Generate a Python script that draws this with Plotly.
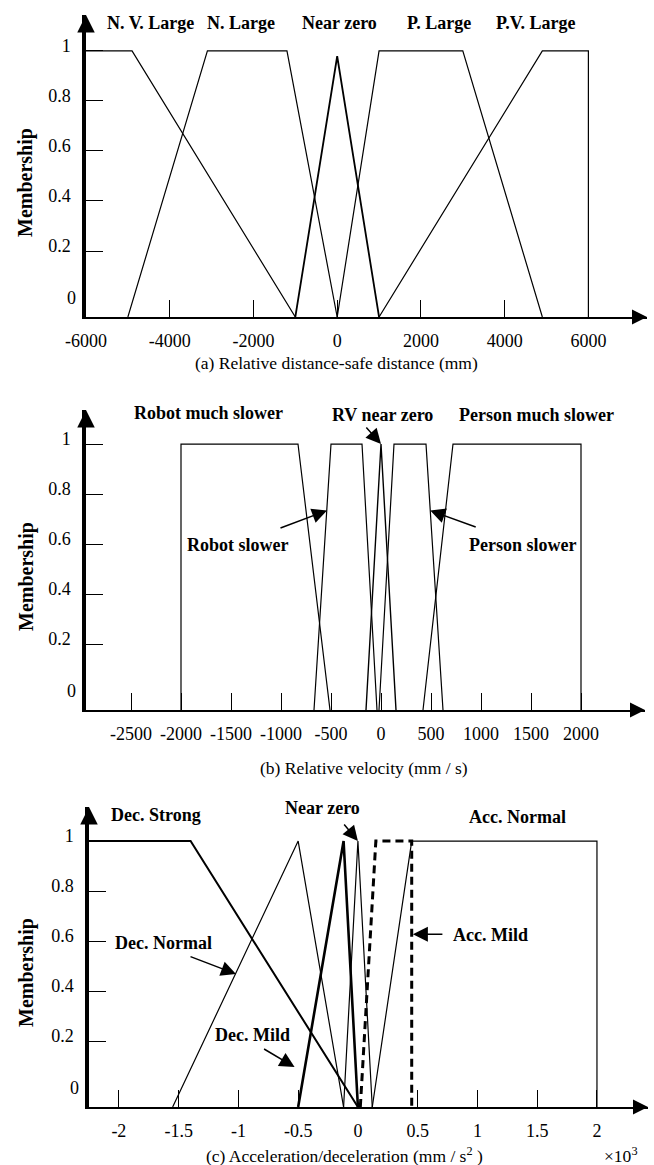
import plotly.graph_objects as go

# ---------------- data ----------------
membership_levels = [0, 0.2, 0.4, 0.6, 0.8, 1]
membership_labels = ["0", "0.2", "0.4", "0.6", "0.8", "1"]

# (a) Relative distance - safe distance (mm)
a_ticks = [-6000, -4000, -2000, 0, 2000, 4000, 6000]
a_tick_text = ["-6000", "-4000", "-2000", "0", "2000", "4000", "6000"]
a_names = ["N. V. Large", "N. Large", "Near zero", "P. Large", "P.V. Large"]
a_nvl_x = [-6000, -4900, -1000]
a_nvl_y = [1, 1, 0]
a_nl_x = [-5000, -3100, -1200, 0]
a_nl_y = [0, 1, 1, 0]
a_nz_x = [-1000, 0, 1000]
a_nz_y = [0, 0.98, 0]
a_pl_x = [0, 1000, 3000, 4900]
a_pl_y = [0, 1, 1, 0]
a_pvl_x = [1000, 4900, 6000, 6000]
a_pvl_y = [0, 1, 1, 0]

# (b) Relative velocity (mm/s)
b_ticks = [-2500, -2000, -1500, -1000, -500, 0, 500, 1000, 1500, 2000]
b_tick_text = ["-2500", "-2000", "-1500", "-1000", "-500", "0", "500", "1000", "1500", "2000"]
b_names = ["Robot much slower", "Robot slower", "RV near zero", "Person slower", "Person much slower"]
b_rms_x = [-2000, -2000, -830, -510]
b_rms_y = [0, 1, 1, 0]
b_rs_x = [-670, -500, -190, -40]
b_rs_y = [0, 1, 1, 0]
b_rv_x = [-150, 0, 150]
b_rv_y = [0, 1, 0]
b_ps_x = [-20, 130, 450, 620]
b_ps_y = [0, 1, 1, 0]
b_pms_x = [420, 720, 2000, 2000]
b_pms_y = [0, 1, 1, 0]

# (c) Acceleration / deceleration (x10^3 mm/s^2)
c_ticks = [-2, -1.5, -1, -0.5, 0, 0.5, 1, 1.5, 2]
c_tick_text = ["-2", "-1.5", "-1", "-0.5", "0", "0.5", "1", "1.5", "2"]
c_names = ["Dec. Strong", "Dec. Normal", "Dec. Mild", "Near zero", "Acc. Mild", "Acc. Normal"]
c_ds_x = [-2.25, -1.4, 0]
c_ds_y = [1, 1, 0]
c_dn_x = [-1.55, -0.5, -0.12]
c_dn_y = [0, 1, 0]
c_dm_x = [-0.5, -0.12, 0]
c_dm_y = [0, 1, 0]
c_nz_x = [-0.12, 0, 0.12]
c_nz_y = [0, 1, 0]
c_am_x = [0.02, 0.15, 0.45, 0.45]
c_am_y = [0, 1, 1, 0]
c_an_x = [0.12, 0.45, 2, 2]
c_an_y = [0, 1, 1, 0]

# ---------------- layout helpers ----------------
W, H = 654, 1165
SERIF = "Liberation Serif"
TICK0 = 0.06  # where the "0" label sits above the base line


def fx(p):
    return p / W


def fy(p):
    return 1 - p / H


def yt(v):
    return TICK0 + (1 - TICK0) * v


fig = go.Figure()


def add_set(xs, ys, axis, width=1.2, dash="solid"):
    fig.add_trace(go.Scatter(
        x=xs, y=ys, mode="lines", xaxis="x" + axis, yaxis="y" + axis,
        line=dict(color="black", width=width, dash=dash),
        showlegend=False, hoverinfo="skip"))


add_set(a_nvl_x, a_nvl_y, "")
add_set(a_nl_x, a_nl_y, "")
add_set(a_nz_x, a_nz_y, "", width=1.8)
add_set(a_pl_x, a_pl_y, "")
add_set(a_pvl_x, a_pvl_y, "")

add_set(b_rms_x, b_rms_y, "2")
add_set(b_rs_x, b_rs_y, "2")
add_set(b_rv_x, b_rv_y, "2", width=1.4)
add_set(b_ps_x, b_ps_y, "2")
add_set(b_pms_x, b_pms_y, "2")

add_set(c_ds_x, c_ds_y, "3", width=2.0)
add_set(c_dn_x, c_dn_y, "3")
add_set(c_dm_x, c_dm_y, "3", width=2.6)
add_set(c_nz_x, c_nz_y, "3")
add_set(c_am_x, c_am_y, "3", width=3, dash="8px,5px")
add_set(c_an_x, c_an_y, "3")

tickfont = dict(family=SERIF, size=18, color="black")


def xaxis_cfg(px_l, px_r, rng, vals, text, anchor):
    return dict(domain=[fx(px_l), fx(px_r)], range=rng, anchor=anchor,
                tickvals=vals, ticktext=text, ticks="inside", ticklen=17,
                tickwidth=1.4, tickcolor="black", showline=True, linewidth=2.2,
                linecolor="black", showgrid=False, zeroline=False,
                tickfont=tickfont, ticklabelstandoff=6, fixedrange=True,
                automargin=False)


def yaxis_cfg(px_t, px_b, top, anchor):
    return dict(domain=[fy(px_b), fy(px_t)], range=[0, top], anchor=anchor,
                tickvals=[yt(v) for v in membership_levels[1:]],
                ticktext=membership_labels[1:], ticks="inside", ticklen=17,
                tickwidth=1.4, tickcolor="black", showline=True, linewidth=3.5,
                linecolor="black", showgrid=False, zeroline=False,
                tickfont=tickfont, ticklabelstandoff=8, ticklabelshift=-5,
                fixedrange=True, automargin=False)


fig.update_layout(
    width=W, height=H, margin=dict(l=0, r=0, t=0, b=0, pad=0, autoexpand=False),
    paper_bgcolor="white", plot_bgcolor="white",
    xaxis=xaxis_cfg(86, 647, [-6000, 7400], a_ticks, a_tick_text, "y"),
    yaxis=yaxis_cfg(15, 317, 1.135, "x"),
    xaxis2=xaxis_cfg(86, 645, [-2950, 2640], b_ticks, b_tick_text, "y2"),
    yaxis2=yaxis_cfg(410, 710, 1.128, "x2"),
    xaxis3=xaxis_cfg(89, 648, [-2.25, 2.427], c_ticks, c_tick_text, "y3"),
    yaxis3=yaxis_cfg(807, 1107, 1.128, "x3"),
)

ann = []
bold = dict(family=SERIF, size=18, color="black")
reg = dict(family=SERIF, size=17.5, color="black")

# axis arrowheads and the "0" labels
for ax in ["", "2", "3"]:
    ann.append(dict(xref="x%s domain" % ax, yref="y%s domain" % ax, x=1, y=0,
                    ax=-16, ay=0, text="", showarrow=True, arrowhead=2,
                    arrowwidth=2, arrowsize=1.5, arrowcolor="black"))
    ann.append(dict(xref="x%s domain" % ax, yref="y%s domain" % ax, x=0, y=1,
                    ax=0, ay=18, text="", showarrow=True, arrowhead=2,
                    arrowwidth=3.5, arrowsize=1.0, arrowcolor="black"))
    ann.append(dict(xref="x%s domain" % ax, yref="y" + ax, x=0, y=yt(0),
                    text=membership_labels[0], showarrow=False, xanchor="right",
                    yanchor="middle", xshift=-8, yshift=3, font=tickfont))

# Membership titles
for cy in [183, 577, 973]:
    ann.append(dict(xref="paper", yref="paper", x=fx(26), y=fy(cy),
                    text="<b>Membership</b>", textangle=-90, showarrow=False,
                    font=dict(family=SERIF, size=20, color="black"),
                    xanchor="center", yanchor="middle"))

# axis captions
ann.append(dict(xref="paper", yref="paper", x=fx(336), y=fy(363),
                text="(a) Relative distance-safe distance (mm)", showarrow=False,
                font=reg, xanchor="center", yanchor="middle"))
ann.append(dict(xref="paper", yref="paper", x=fx(364), y=fy(768),
                text="(b) Relative velocity (mm / s)", showarrow=False,
                font=reg, xanchor="center", yanchor="middle"))
ann.append(dict(xref="paper", yref="paper", x=fx(344), y=fy(1155),
                text="(c) Acceleration/deceleration (mm / s<sup>2</sup> )",
                showarrow=False, font=reg, xanchor="center", yanchor="middle"))
ann.append(dict(xref="paper", yref="paper", x=fx(621), y=fy(1155),
                text="×10<sup>3</sup>", showarrow=False, font=reg,
                xanchor="center", yanchor="middle"))

# set labels (a)
for name, cx in zip(a_names, [150, 241, 340, 439, 536]):
    ann.append(dict(xref="paper", yref="paper", x=fx(cx), y=fy(23), text="<b>%s</b>" % name,
                    showarrow=False, font=bold, xanchor="center", yanchor="middle"))

# set labels (b)
for name, cx, cy in zip(b_names, [208, 238, 382, 522, 536], [413, 545, 415, 545, 415]):
    ann.append(dict(xref="paper", yref="paper", x=fx(cx), y=fy(cy), text="<b>%s</b>" % name,
                    showarrow=False, font=bold, xanchor="center", yanchor="middle"))

# set labels (c)
for name, cx, cy in zip(c_names, [156, 164, 252, 322, 490, 517], [815, 943, 1035, 808, 935, 817]):
    ann.append(dict(xref="paper", yref="paper", x=fx(cx), y=fy(cy), text="<b>%s</b>" % name,
                    showarrow=False, font=bold, xanchor="center", yanchor="middle"))


def pointer(axis, x, y, ax, ay):
    ann.append(dict(xref="x" + axis, yref="y" + axis, x=x, y=y, ax=ax, ay=ay, text="",
                    showarrow=True, arrowhead=2, arrowwidth=1.5, arrowsize=2.0,
                    arrowcolor="black"))


# pointers (b)
pointer("2", -540, 0.75, -48, 18)
pointer("2", 0, 1.0, -16, -18)
pointer("2", 492, 0.75, 47, 17)
# pointers (c)
pointer("3", -1.02, 0.5, -47, -18)
pointer("3", -0.53, 0.15, -32, -19)
pointer("3", 0, 1.0, -15, -18)
pointer("3", 0.46, 0.65, 31, 0)

fig.update_layout(annotations=ann)
fig.write_html(
    "out.html",
    config={"displayModeBar": False},
    post_script="document.body.style.margin='0px';document.body.style.overflow='hidden';",
)
